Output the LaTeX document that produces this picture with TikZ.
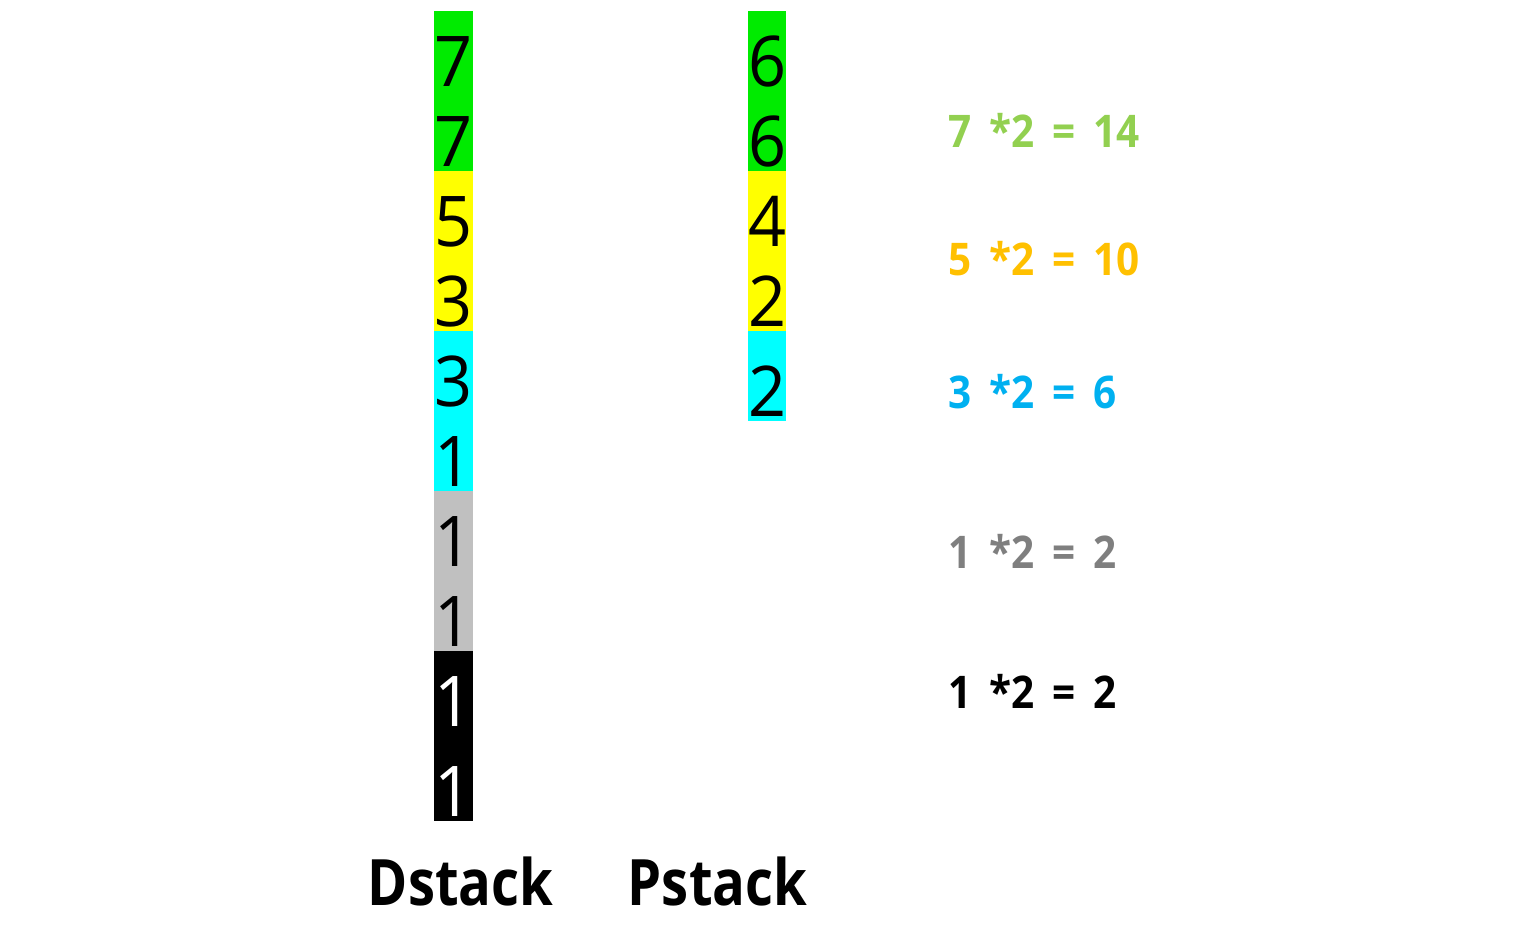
\documentclass[tikz,border=0pt]{standalone}
\usepackage{fontspec}
\setmainfont{Open Sans}
\newfontfamily\labelfont[FakeStretch=0.85]{Open Sans Bold}
\newfontfamily\eqfont[FakeStretch=0.9]{Open Sans Bold}
\newfontfamily\digitfont[FakeStretch=0.95]{Open Sans}
\newcommand{\gp}{\hspace{9pt}}
\definecolor{cgreen}{RGB}{0,235,0}
\definecolor{cyellow}{RGB}{255,255,0}
\definecolor{ccyan}{RGB}{0,255,255}
\definecolor{cgray}{RGB}{192,192,192}
\definecolor{eqgreen}{RGB}{146,208,80}
\definecolor{eqorange}{RGB}{255,192,0}
\definecolor{eqblue}{RGB}{0,176,240}
\definecolor{eqgray}{RGB}{127,127,127}
\tikzset{
  cell/.style={rectangle, inner sep=0pt, outer sep=0pt, minimum width=18.5pt,
    text height=37.5pt, text depth=2.5pt, font=\digitfont\fontsize{35pt}{40pt}\selectfont},
  tallcell/.style={cell, text height=42.5pt},
  eq/.style={anchor=base west, inner sep=0pt, font=\eqfont\fontsize{22.5pt}{26pt}\selectfont},
  stacklabel/.style={anchor=base, inner sep=0pt, font=\labelfont\fontsize{32pt}{36pt}\selectfont}
}
\begin{document}
\begin{tikzpicture}[x=0.5pt,y=-0.5pt]
\useasboundingbox (0,0) rectangle (1530,950);
% Dstack
\node[cell, fill=cgreen, anchor=north] (d1) at (453.5,11) {7};
\node[cell, fill=cgreen, anchor=north] (d2) at (d1.south) {7};
\node[cell, fill=cyellow, anchor=north] (d3) at (d2.south) {5};
\node[cell, fill=cyellow, anchor=north] (d4) at (d3.south) {3};
\node[cell, fill=ccyan, anchor=north] (d5) at (d4.south) {3};
\node[cell, fill=ccyan, anchor=north] (d6) at (d5.south) {1};
\node[cell, fill=cgray, anchor=north] (d7) at (d6.south) {1};
\node[cell, fill=cgray, anchor=north] (d8) at (d7.south) {1};
\node[cell, fill=black, text=white, anchor=north] (d9) at (d8.south) {1};
\node[tallcell, fill=black, text=white, anchor=north] (d10) at (d9.south) {1};
% Pstack
\node[cell, fill=cgreen, anchor=north] (p1) at (767,11) {6};
\node[cell, fill=cgreen, anchor=north] (p2) at (p1.south) {6};
\node[cell, fill=cyellow, anchor=north] (p3) at (p2.south) {4};
\node[cell, fill=cyellow, anchor=north] (p4) at (p3.south) {2};
\node[tallcell, fill=ccyan, anchor=north] (p5) at (p4.south) {2};
% labels
\node[stacklabel] (dl) at (460.5,905) {Dstack};
\node[stacklabel] (pl) at (717.5,905) {Pstack};
% equations
\node[eq, text=eqgreen] (e1) at (948,147) {7\gp*2\gp=\gp14};
\node[eq, text=eqorange] (e2) at (948,275) {5\gp*2\gp=\gp10};
\node[eq, text=eqblue] (e3) at (948,408) {3\gp*2\gp=\gp6};
\node[eq, text=eqgray] (e4) at (948,568) {1\gp*2\gp=\gp2};
\node[eq, text=black] (e5) at (948,708) {1\gp*2\gp=\gp2};
\end{tikzpicture}
\end{document}
